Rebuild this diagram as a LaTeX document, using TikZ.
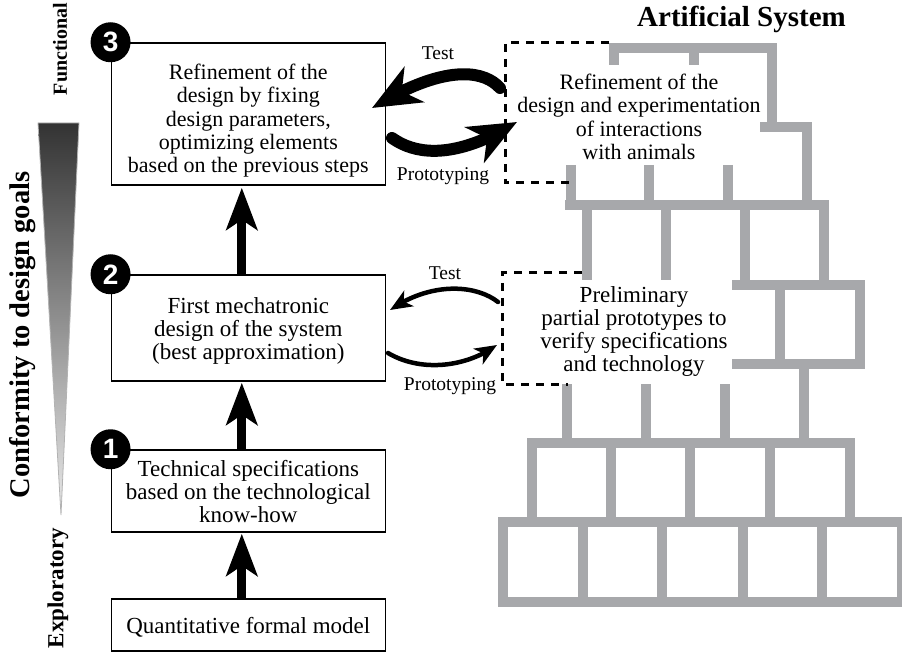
\documentclass[tikz,border=0pt]{standalone}
\usepackage{fontspec}
\setmainfont{Liberation Serif}
\newfontfamily\numfont{Liberation Sans}
\usetikzlibrary{arrows.meta,bending}

\definecolor{brick}{HTML}{A7A8AB}

\begin{document}
\begin{tikzpicture}[x=1pt,y=-1pt,
  stage/.style={draw=black, line width=1.5pt, minimum width=274pt, inner sep=0pt},
  numdot/.style={circle, fill=black, minimum size=40pt, inner sep=0pt, text=white,
    font=\numfont\bfseries\fontsize{28}{28}\selectfont},
  body/.style={align=center, inner sep=0pt, font=\fontsize{23}{23}\selectfont},
  fine/.style={align=center, inner sep=0pt, font=\fontsize{22}{23.3}\selectfont},
  tag/.style={inner sep=0pt, font=\fontsize{19.5}{19.5}\selectfont},
  axislabel/.style={rotate=90, inner sep=0pt, font=\bfseries\fontsize{#1}{#1}\selectfont},
  uparrow/.style={line width=9pt, -{Stealth[length=42pt,width=31pt,inset=10pt]}},
  bigflow/.style={line width=12pt, line cap=round, -{Stealth[length=48pt,width=40pt,inset=14pt]}},
  smallflow/.style={line width=4.5pt, line cap=round, -{Stealth[length=22pt,width=18pt,inset=6pt]}},
  bricks/.style={draw=brick, line width=10pt, line join=miter},
  frame/.style={draw=black, line width=3pt, dash pattern=on 8pt off 7pt}
]
\useasboundingbox (0,0) rectangle (902,652);

% ---------- brick wall (artificial system) ----------
\path[bricks] (614,65) -- (614,48) -- (772,48) -- (772,127);
\path[bricks] (694,48) -- (694,65);
\path[bricks] (760,127) -- (807,127) -- (807,205.5);
\path[bricks] (565,205.5) -- (823.5,205.5) -- (823.5,285);
\foreach \x in {570.5,649,728} \path[bricks] (\x,165) -- (\x,205.5);
\foreach \x in {586.5,666} \path[bricks] (\x,205.5) -- (\x,280);
\path[bricks] (745,205.5) -- (745,285);
\path[bricks] (732,285) -- (860,285) -- (860,363.5) -- (732,363.5);
\path[bricks] (780,285) -- (780,363.5);
\path[bricks] (804,363.5) -- (804,443);
\foreach \x in {566.5,646,725} \path[bricks] (\x,384) -- (\x,443);
\path[bricks] (532,522) -- (532,443) -- (850,443) -- (850,522);
\foreach \x in {611,690,770} \path[bricks] (\x,443) -- (\x,522);
\path[bricks] (503,522) rectangle (902,602);
\foreach \x in {583,662,742.5,822} \path[bricks] (\x,522) -- (\x,602);

% ---------- dashed prototype regions ----------
\coordinate (fa) at (609,43);
\coordinate (fb) at (505,43);
\coordinate (fc) at (505,183);
\coordinate (fd) at (572,183);
\draw[frame] (fa) -- (fb) -- (fc) -- (fd);
\coordinate (ga) at (582,273);
\coordinate (gb) at (502,273);
\coordinate (gc) at (502,384);
\coordinate (gd) at (568,384);
\draw[frame] (ga) -- (gb) -- (gc) -- (gd);

\node[font=\bfseries\fontsize{29}{29}\selectfont, inner sep=0pt, anchor=base] (title) at (741.5,27) {Artificial System};
\node[fine] (proto3) at (639,117) {Refinement of the\\design and experimentation\\of interactions\\with animals};
\node[body] (proto2) at (634,332) {Preliminary\\partial prototypes to\\verify specifications\\and technology};

% ---------- design stages ----------
\node[stage, minimum height=142pt] (box3) at (248.3,114) {};
\node[stage, minimum height=106pt] (box2) at (248.3,328) {};
\node[stage, minimum height=82pt] (box1) at (248.3,491) {};
\node[stage, minimum height=52pt] (box0) at (248.3,625) {};

\node[fine] (box3txt) at (248.3,120.8) {Refinement of the\\design by fixing\\design parameters,\\optimizing elements\\based on the previous steps};
\node[body] (box2txt) at (248.3,330.5) {First mechatronic\\design of the system\\(best approximation)};
\node[body] (box1txt) at (248.3,492) {Technical specifications\\based on the technological\\know-how};
\node[body] (box0txt) at (248.3,627) {Quantitative formal model};

\node[numdot] (n3) at (box3.north west) {3};
\node[numdot] (n2) at (box2.north west) {2};
\node[numdot] (n1) at (box1.north west) {1};

\draw[uparrow] ([xshift=-6.5pt]box0.north) -- ([xshift=-6.5pt,yshift=-1pt]box1.south);
\draw[uparrow] ([xshift=-6.5pt]box1.north) -- ([xshift=-6.5pt,yshift=-1pt]box2.south);
\draw[uparrow] ([xshift=-6.5pt]box2.north) -- ([xshift=-6.5pt,yshift=-2pt]box3.south);

% ---------- test / prototyping loops ----------
\coordinate (t3s) at (500,88);
\coordinate (t3e) at (372,108);
\coordinate (p3s) at (392,138);
\coordinate (p3e) at (517,122);
\draw[bigflow] (t3s) .. controls (482,68) and (440,66) .. (t3e);
\draw[bigflow] (p3s) .. controls (420,158) and (462,156) .. (p3e);
\node[tag] (test3) at (438,53) {Test};
\node[tag] (prot3) at (443,176) {Prototyping};

\coordinate (t2s) at (498,302);
\coordinate (t2e) at (390,310);
\coordinate (p2s) at (388,353);
\coordinate (p2e) at (497,345);
\draw[smallflow] (t2s) .. controls (475,284) and (430,282) .. (t2e);
\draw[smallflow] (p2s) .. controls (420,372) and (465,368) .. (p2e);
\node[tag] (test2) at (445,273) {Test};
\node[tag] (prot2) at (450,386) {Prototyping};

% ---------- conformity scale ----------
\shade[top color=black!80, middle color=black!42, bottom color=black!8]
  (38,123) -- (79,123) -- (61,515) -- cycle;
\draw[black!30, line width=0.8pt] (38,123) -- (79,123) -- (61,515) -- cycle;
\node[axislabel=20] (func) at (60,49) {Functional};
\node[axislabel=23] (expl) at (58,588) {Exploratory};
\node[axislabel=28.5] (conf) at (23,335) {Conformity to design goals};
\end{tikzpicture}
\end{document}
